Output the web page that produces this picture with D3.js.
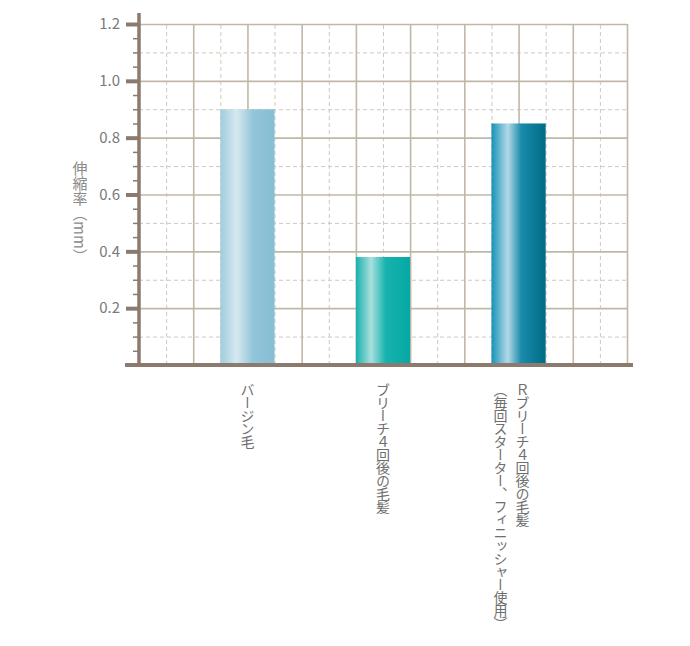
<!DOCTYPE html>
<html lang="ja">
<head>
<meta charset="utf-8">
<script src="https://cdn.jsdelivr.net/npm/d3@7"></script>
<style>
  body { margin: 0; background: #fff; }
  svg text { font-family: "Noto Sans CJK JP", "Noto Sans", sans-serif; }
  .vlabel { writing-mode: vertical-rl; text-orientation: mixed; }
</style>
</head>
<body>
<svg id="chart" width="690" height="646"></svg>
<script>
const categories = ["virgin", "bleach4", "rbleach4"];
const labelLines = [
  ["バージン毛"],
  ["ブリーチ４回後の毛髪"],
  ["Ｒブリーチ４回後の毛髪", "（毎回スターター、フィニッシャー使用）"]
];
const values = [0.90, 0.38, 0.85];
const majorTicks = [0.2, 0.4, 0.6, 0.8, 1.0, 1.2];
const minorTicks = [0.05, 0.1, 0.15, 0.25, 0.3, 0.35, 0.45, 0.5, 0.55, 0.65, 0.7, 0.75,
  0.85, 0.9, 0.95, 1.05, 1.1, 1.15];
const halfTicks = [0.1, 0.3, 0.5, 0.7, 0.9, 1.1];
const yTitle = "伸縮率（mm）";

const gradients = [
  [["0%", "#a0ccdd"], ["30%", "#d6e9f0"], ["60%", "#93c5d8"], ["100%", "#86bed3"]],
  [["0%", "#17b0ae"], ["28%", "#a9e0de"], ["55%", "#17b3ae"], ["100%", "#06a8a4"]],
  [["0%", "#1592b8"], ["30%", "#b3d9e8"], ["55%", "#1a8bab"], ["100%", "#006c84"]]
];

const svg = d3.select("#chart");
const plotLeft = 139, plotRight = 627, plotTop = 24, plotBottom = 365;
const axisColor = "#8c7a6e";
const gridColor = "#c1b7a7";

const y = d3.scaleLinear().domain([0, 1.2]).range([plotBottom, plotTop]);
// grid columns: 18 cells across the plot
const gx = d3.scaleLinear().domain([0, 18]).range([plotLeft, plotRight]);
const x = d3.scaleBand()
  .domain(categories)
  .range([gx(1.5), gx(16.5)])
  .paddingInner(0.6)
  .paddingOuter(0.3);

const defs = svg.append("defs");
gradients.forEach((stops, i) => {
  const g = defs.append("linearGradient")
    .attr("id", "grad" + i)
    .attr("x1", "0%").attr("x2", "100%").attr("y1", "0%").attr("y2", "0%");
  stops.forEach(s => g.append("stop").attr("offset", s[0]).attr("stop-color", s[1]));
});

// dashed grid
svg.append("g")
  .attr("transform", `translate(${plotLeft},0)`)
  .call(d3.axisLeft(y).tickValues(halfTicks).tickSize(-(plotRight - plotLeft)).tickFormat(""))
  .call(g => g.select(".domain").remove())
  .selectAll("line")
  .attr("stroke", "#cfc8bd")
  .attr("stroke-dasharray", "4,3");

svg.append("g")
  .attr("transform", `translate(0,${plotBottom})`)
  .call(d3.axisBottom(gx).tickValues(d3.range(1, 18, 2)).tickSize(-(plotBottom - plotTop)).tickFormat(""))
  .call(g => g.select(".domain").remove())
  .selectAll("line")
  .attr("stroke", "#cfc8bd")
  .attr("stroke-dasharray", "4,3");

// solid grid
svg.append("g")
  .attr("transform", `translate(${plotLeft},0)`)
  .call(d3.axisLeft(y).tickValues(majorTicks).tickSize(-(plotRight - plotLeft)).tickFormat(""))
  .call(g => g.select(".domain").remove())
  .selectAll("line")
  .attr("stroke", gridColor)
  .attr("stroke-width", 1.6);

svg.append("g")
  .attr("transform", `translate(0,${plotBottom})`)
  .call(d3.axisBottom(gx).tickValues(d3.range(2, 19, 2)).tickSize(-(plotBottom - plotTop)).tickFormat(""))
  .call(g => g.select(".domain").remove())
  .selectAll("line")
  .attr("stroke", gridColor)
  .attr("stroke-width", 1.6);

// bars
svg.selectAll("rect.bar")
  .data(values)
  .enter()
  .append("rect")
  .attr("class", "bar")
  .attr("x", (d, i) => x(categories[i]))
  .attr("y", d => y(d))
  .attr("width", x.bandwidth())
  .attr("height", d => y(0) - y(d))
  .attr("fill", (d, i) => `url(#grad${i})`);

// minor ticks
svg.append("g")
  .attr("transform", `translate(${plotLeft},0)`)
  .call(d3.axisLeft(y).tickValues(minorTicks).tickSize(6).tickFormat(""))
  .call(g => g.select(".domain").remove())
  .selectAll("line")
  .attr("stroke", axisColor)
  .attr("stroke-width", 1.5);

// major ticks + labels
const yAxis = svg.append("g")
  .attr("transform", `translate(${plotLeft},0)`)
  .call(d3.axisLeft(y).tickValues(majorTicks).tickSize(13).tickPadding(6).tickFormat(d3.format(".1f")));
yAxis.select(".domain").remove();
yAxis.selectAll("line").attr("stroke", axisColor).attr("stroke-width", 4);
yAxis.selectAll("text")
  .attr("fill", "#7a7a7a")
  .attr("font-size", 15);

// axis lines
svg.append("line")
  .attr("x1", plotLeft).attr("x2", plotLeft)
  .attr("y1", y(1.2) - 11).attr("y2", y(0))
  .attr("stroke", axisColor)
  .attr("stroke-width", 3.5);

svg.append("line")
  .attr("x1", plotLeft - 14).attr("x2", plotRight + 6)
  .attr("y1", y(0)).attr("y2", y(0))
  .attr("stroke", axisColor)
  .attr("stroke-width", 4);

// category labels (vertical)
labelLines.forEach((lines, i) => {
  const cx = x(categories[i]) + x.bandwidth() / 2;
  lines.forEach((t, j) => {
    const offset = lines.length === 1 ? 0 : (j === 0 ? 4 : -18);
    svg.append("text")
      .attr("class", "vlabel")
      .attr("x", cx + offset)
      .attr("y", 383)
      .attr("fill", "#6e6e6e")
      .attr("font-size", 14)
      .attr("letter-spacing", -1)
      .text(t);
  });
});

svg.append("text")
  .attr("class", "vlabel")
  .attr("x", 80)
  .attr("y", 161)
  .attr("fill", "#8a8a8a")
  .attr("font-size", 15)
  .text(yTitle);
</script>
</body>
</html>
